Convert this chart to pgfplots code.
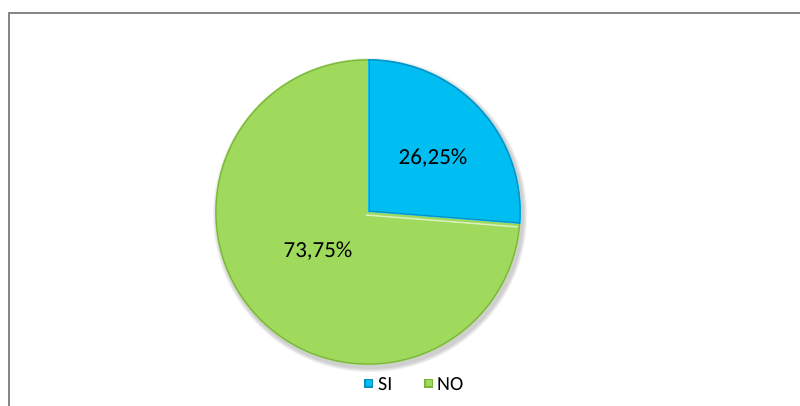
\documentclass[border=0pt]{standalone}
\usepackage{pgfplots}
\pgfplotsset{compat=1.18}
\usepackage{fontspec}
\setmainfont{Carlito}
\definecolor{siblue}{HTML}{00BDF2}
\definecolor{siedge}{HTML}{0A8FC0}
\definecolor{nogreen}{HTML}{9FDA5C}
\definecolor{noedge}{HTML}{7DB63E}
\definecolor{framegray}{HTML}{878787}
% data (percent)
\def\valSI{26.25}
\def\valNO{73.75}
\pgfmathsetmacro{\angSI}{90-3.6*\valSI}
\begin{document}
\begin{tikzpicture}
\begin{axis}[
  scale only axis, width=800pt, height=406pt,
  xmin=0, xmax=800, ymin=0, ymax=406,
  hide axis, clip=true,
]
\coordinate (ll) at (axis cs:0,0);
\coordinate (ur) at (axis cs:800,406);
% frame
\draw[framegray, line width=2.2pt, line cap=butt] (axis cs:9,0) -- (axis cs:9,393) -- (axis cs:800,393);
% soft shadow
\fill[black, opacity=0.05] (axis cs:370,191) circle[radius=154pt];
\fill[black, opacity=0.05] (axis cs:370,191) circle[radius=155pt];
\fill[black, opacity=0.05] (axis cs:370,191) circle[radius=156pt];
\fill[black, opacity=0.05] (axis cs:370,191) circle[radius=157pt];
% slices
\fill[nogreen] (axis cs:368,194) -- ++(\angSI:153pt) arc[start angle=\angSI, end angle=-270, radius=153pt] -- cycle;
\fill[siblue] (axis cs:368,194) -- ++(90:153pt) arc[start angle=90, end angle=\angSI, radius=153pt] -- cycle;
% bevel edges
\draw[noedge, line width=1.2pt] (axis cs:368,194) ++(\angSI:152pt) arc[start angle=\angSI, end angle=-270, radius=152pt];
\draw[siedge, line width=1.2pt] (axis cs:368,194) ++(90:152pt) arc[start angle=90, end angle=\angSI, radius=152pt];
\draw[siedge, line width=1pt] (axis cs:369,195) -- ++(90:151pt);
\draw[siedge, line width=1pt] (axis cs:369,195) -- ++(\angSI:151pt);
\draw[white!60!nogreen, line width=1.5pt] (axis cs:366,191) -- ++(\angSI:152pt);
% labels
\node[font=\fontsize{23}{26}\selectfont] at (axis cs:433,248) {26,25\%};
\node[font=\fontsize{23}{26}\selectfont] at (axis cs:318,155) {73,75\%};
% legend
\fill[siedge] (axis cs:364,18) rectangle (axis cs:373,27);
\fill[siblue] (axis cs:365.5,19.5) rectangle (axis cs:371.5,25.5);
\node[anchor=west, font=\fontsize{20}{22}\selectfont, inner sep=0pt] at (axis cs:378,22) {SI};
\fill[noedge] (axis cs:424,18) rectangle (axis cs:433,27);
\fill[nogreen] (axis cs:425.5,19.5) rectangle (axis cs:431.5,25.5);
\node[anchor=west, font=\fontsize{20}{22}\selectfont, inner sep=0pt] at (axis cs:437,22) {NO};
\end{axis}
\pgfresetboundingbox
\path[use as bounding box] (ll) rectangle (ur);
\end{tikzpicture}
\end{document}
